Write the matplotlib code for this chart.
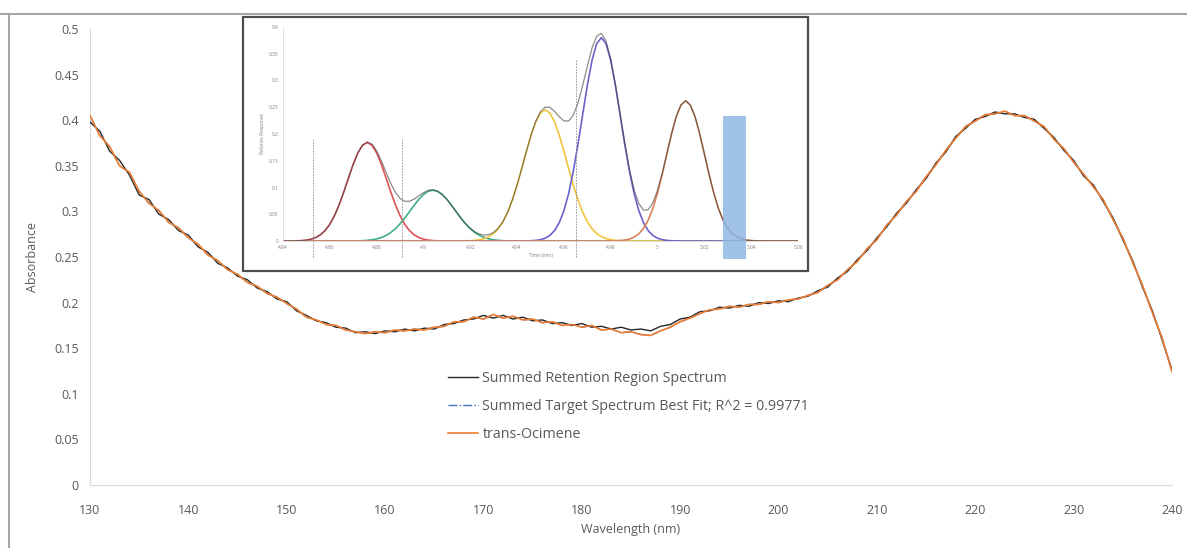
import matplotlib
matplotlib.use("Agg")
import matplotlib.pyplot as plt
from matplotlib.lines import Line2D
from matplotlib.patches import Rectangle
from matplotlib.ticker import FormatStrFormatter, MultipleLocator
import numpy as np

plt.rcParams['font.family'] = ['Open Sans', 'DejaVu Sans']

# main spectra, 1 nm steps
wavelength = list(range(130, 241))

summed_region = [
    0.398, 0.388, 0.366, 0.356, 0.340, 0.318, 0.313, 0.297, 0.291, 0.279,
    0.274, 0.261, 0.255, 0.243, 0.238, 0.229, 0.225, 0.216, 0.212, 0.204,
    0.201, 0.191, 0.186, 0.180, 0.178, 0.173, 0.172, 0.167, 0.168, 0.166,
    0.169, 0.168, 0.171, 0.169, 0.172, 0.171, 0.176, 0.177, 0.181, 0.182,
    0.186, 0.183, 0.186, 0.182, 0.184, 0.180, 0.181, 0.177, 0.178, 0.175,
    0.177, 0.173, 0.174, 0.171, 0.173, 0.170, 0.171, 0.169, 0.174, 0.176,
    0.182, 0.184, 0.190, 0.191, 0.195, 0.194, 0.197, 0.196, 0.200, 0.199,
    0.202, 0.201, 0.205, 0.207, 0.213, 0.217, 0.227, 0.234, 0.247, 0.257,
    0.271, 0.283, 0.298, 0.309, 0.324, 0.336, 0.353, 0.365, 0.382, 0.391,
    0.401, 0.404, 0.409, 0.407, 0.407, 0.403, 0.401, 0.391, 0.381, 0.367,
    0.356, 0.339, 0.329, 0.311, 0.293, 0.269, 0.246, 0.217, 0.191, 0.159,
    0.126,
]

ocimene = [
    0.405, 0.383, 0.371, 0.350, 0.343, 0.322, 0.309, 0.301, 0.288, 0.282,
    0.271, 0.264, 0.252, 0.246, 0.236, 0.231, 0.222, 0.218, 0.210, 0.206,
    0.199, 0.193, 0.184, 0.181, 0.176, 0.175, 0.170, 0.168, 0.166, 0.168,
    0.167, 0.170, 0.169, 0.171, 0.170, 0.173, 0.174, 0.179, 0.179, 0.184,
    0.182, 0.187, 0.183, 0.185, 0.181, 0.182, 0.178, 0.179, 0.175, 0.176,
    0.173, 0.175, 0.170, 0.171, 0.167, 0.168, 0.165, 0.164, 0.169, 0.173,
    0.179, 0.183, 0.188, 0.192, 0.193, 0.196, 0.195, 0.198, 0.198, 0.201,
    0.200, 0.203, 0.204, 0.208, 0.211, 0.219, 0.225, 0.236, 0.245, 0.259,
    0.269, 0.285, 0.296, 0.311, 0.322, 0.338, 0.351, 0.367, 0.380, 0.393,
    0.399, 0.406, 0.407, 0.410, 0.405, 0.405, 0.399, 0.393, 0.379, 0.369,
    0.354, 0.341, 0.327, 0.313, 0.291, 0.271, 0.244, 0.219, 0.189, 0.161,
    0.124,
]

# single-component fit sits on top of the ocimene reference
best_fit = ocimene

fit_label = "Summed Target Spectrum Best Fit; R^2 = 0.99771"

# inset chromatogram, sampled every 0.002 min from 4.84 to 5.06
inset_time = np.linspace(4.84, 5.06, 111)
peak_red = [0] * 2 + [
    0.0001, 0.0004, 0.0008, 0.0017, 0.0034, 0.0065, 0.0116, 0.0196, 0.0313, 0.0474, 0.0679,
    0.0921, 0.1182, 0.1434, 0.1647, 0.1790, 0.184, 0.1790, 0.1647, 0.1434, 0.1182, 0.0921,
    0.0679, 0.0474, 0.0313, 0.0196, 0.0116, 0.0065, 0.0034, 0.0017, 0.0008, 0.0004, 0.0001,
] + [0] * 76
peak_green = [0] * 16 + [
    0.0003, 0.0006, 0.0012, 0.0022, 0.0039, 0.0065, 0.0104, 0.0158, 0.0230, 0.0321, 0.0428,
    0.0546, 0.0666, 0.0778, 0.0869, 0.0929, 0.095, 0.0929, 0.0869, 0.0778, 0.0666, 0.0546,
    0.0428, 0.0321, 0.0230, 0.0158, 0.0104, 0.0065, 0.0039, 0.0022, 0.0012, 0.0006, 0.0003,
] + [0] * 62
peak_yellow = [0] * 39 + [
    0.0003, 0.0006, 0.0012, 0.0024, 0.0045, 0.0082, 0.0140, 0.0231, 0.0361, 0.0540, 0.0770,
    0.1046, 0.1357, 0.1679, 0.1981, 0.2229, 0.2393, 0.245, 0.2393, 0.2229, 0.1981, 0.1679,
    0.1357, 0.1046, 0.0770, 0.0540, 0.0361, 0.0231, 0.0140, 0.0082, 0.0045, 0.0024, 0.0012,
    0.0006, 0.0003,
] + [0] * 37
peak_purple = [0] * 52 + [
    0.0002, 0.0005, 0.0011, 0.0025, 0.0052, 0.0104, 0.0194, 0.0342, 0.0566, 0.0885, 0.1302,
    0.1807, 0.2361, 0.2907, 0.3374, 0.3689, 0.38, 0.3689, 0.3374, 0.2907, 0.2361, 0.1807,
    0.1302, 0.0885, 0.0566, 0.0342, 0.0194, 0.0104, 0.0052, 0.0025, 0.0011, 0.0005, 0.0002,
] + [0] * 26
peak_orange = [0] * 70 + [
    0.0001, 0.0003, 0.0008, 0.0017, 0.0036, 0.0072, 0.0134, 0.0236, 0.0390, 0.0610, 0.0898,
    0.1246, 0.1628, 0.2005, 0.2326, 0.2543, 0.262, 0.2543, 0.2326, 0.2005, 0.1628, 0.1246,
    0.0898, 0.0610, 0.0390, 0.0236, 0.0134, 0.0072, 0.0036, 0.0017, 0.0008, 0.0003, 0.0001,
] + [0] * 8
peaks = [peak_red, peak_green, peak_yellow, peak_purple, peak_orange]
peak_colors = ['#e0525a', '#3fae80', '#f2c53d', '#6b63c9', '#d9845a']

region_marks = [4.853, 4.891, 4.965]
region_tops = [0.19, 0.19, 0.34]
window_start, window_end, window_top = 5.028, 5.038, 0.233

grey = '#595959'

fig = plt.figure(figsize=(11.87, 5.48), dpi=100)
W, H = 1187.0, 548.0

ax = fig.add_axes([90 / W, 1 - 485 / H, (1172 - 90) / W, (485 - 29) / H])
ax.plot(wavelength, summed_region, color='#262626', lw=1.0, zorder=3)
ax.plot(wavelength, best_fit, color='#4472c4', lw=1.0, ls='-.', zorder=2)
ax.plot(wavelength, ocimene, color='#ed7d31', lw=1.2, zorder=4)

ax.set_xlim(130, 240)
ax.set_ylim(0, 0.5)
ax.xaxis.set_major_locator(MultipleLocator(10))
ax.yaxis.set_major_locator(MultipleLocator(0.05))
ax.yaxis.set_major_formatter(FormatStrFormatter('%g'))
ax.tick_params(length=0, labelsize=9, labelcolor=grey)
ax.tick_params(axis='x', pad=14)
ax.tick_params(axis='y', pad=8)
for s in ['top', 'right']:
    ax.spines[s].set_visible(False)
for s in ['left', 'bottom']:
    ax.spines[s].set_color('#d9d9d9')
ax.set_xlabel('Wavelength (nm)', fontsize=9, color=grey, labelpad=4)
ax.set_ylabel('Absorbance', fontsize=9, color=grey, labelpad=11)

handles = [Line2D([], [], color='#262626', lw=1.0),
           Line2D([], [], color='#4472c4', lw=1.0, ls='-.'),
           Line2D([], [], color='#ed7d31', lw=1.2)]
labels = ['Summed Retention Region Spectrum', fit_label, 'trans-Ocimene']
leg = fig.legend(handles, labels, loc='upper left', bbox_to_anchor=(448 / W, 1 - 371 / H),
                 frameon=False, fontsize=10.3, handlelength=2.1, handletextpad=0.3,
                 labelspacing=0.92, borderpad=0, borderaxespad=0)
for t in leg.get_texts():
    t.set_color(grey)

# inset box
fig.patches.append(Rectangle((243 / W, 1 - 271 / H), 565 / W, 254 / H, transform=fig.transFigure,
                             facecolor='white', edgecolor='#4d4d4d', lw=1.6, zorder=1))

ins = fig.add_axes([283 / W, 1 - 241 / H, (798 - 283) / W, (241 - 27) / H], zorder=2)
ins.set_facecolor('none')
for c, p in zip(peak_colors, peaks):
    ins.plot(inset_time, p, color=c, lw=1.2)
ins.plot(inset_time, np.sum(peaks, axis=0), color='#404040', lw=0.9, alpha=0.6)
for xm, top in zip(region_marks, region_tops):
    ins.plot([xm, xm], [-0.03, top], color='#8c8c8c', lw=0.6, ls=(0, (2, 1.5)), clip_on=False)
ins.bar((window_start + window_end) / 2, window_top + 0.034, width=window_end - window_start,
        bottom=-0.034, color='#8fb8e3', alpha=0.85, clip_on=False, zorder=5)

ins.set_xlim(4.84, 5.06)
ins.set_ylim(0, 0.4)
ins.xaxis.set_major_locator(MultipleLocator(0.02))
ins.yaxis.set_major_locator(MultipleLocator(0.05))
ins.xaxis.set_major_formatter(FormatStrFormatter('%g'))
ins.yaxis.set_major_formatter(FormatStrFormatter('%g'))
ins.tick_params(length=0, labelsize=3.5, labelcolor='#808080', pad=3)
for s in ['top', 'right']:
    ins.spines[s].set_visible(False)
for s in ['left', 'bottom']:
    ins.spines[s].set_color('#d9d9d9')
    ins.spines[s].set_linewidth(0.6)
ins.set_xlabel('Time (min)', fontsize=3.5, color='#808080', labelpad=2)
ins.set_ylabel('Relative Response', fontsize=3.5, color='#808080', labelpad=3)

# outer frame (top and left edges visible)
fig.add_artist(Line2D([0, 1], [1 - 13.5 / H, 1 - 13.5 / H], transform=fig.transFigure,
                      color='#a6a6a6', lw=1.5))
fig.add_artist(Line2D([9.5 / W, 9.5 / W], [0, 1 - 13.5 / H], transform=fig.transFigure,
                      color='#a6a6a6', lw=1.5))

fig.savefig('out.png', dpi=100)
